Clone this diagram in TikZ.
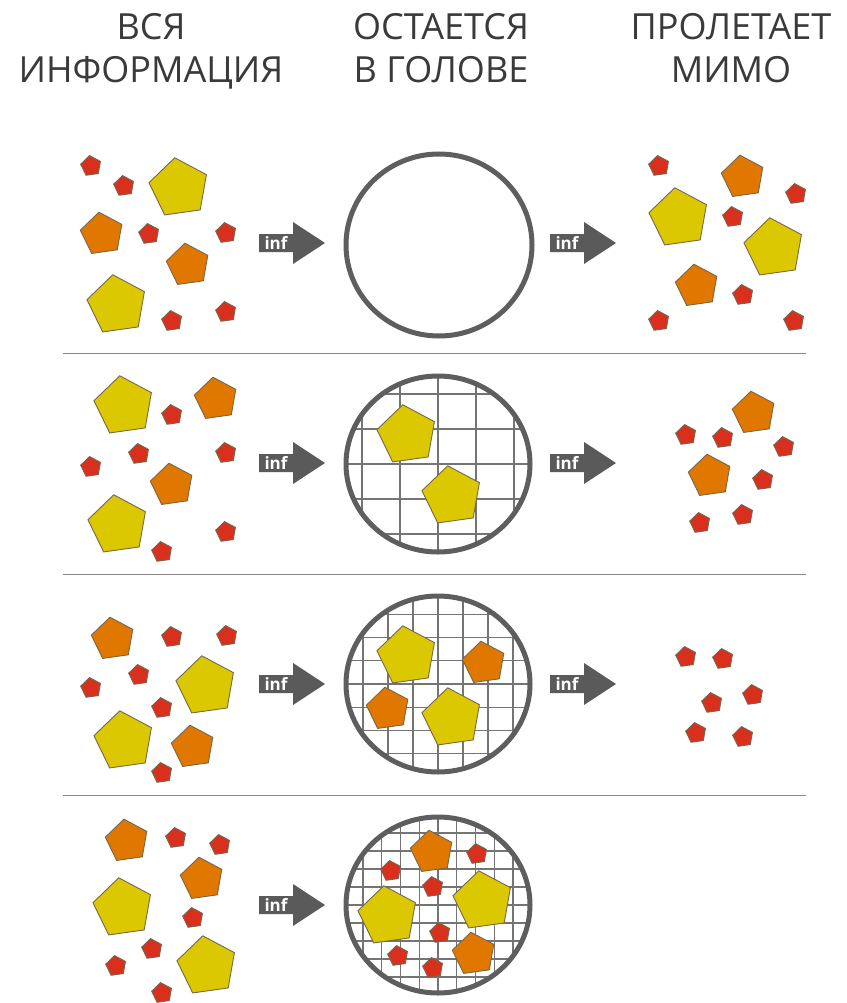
\documentclass[tikz,border=0pt]{standalone}
\usepackage{fontspec}
\newfontfamily\hdrfont{Open Sans}
\newfontfamily\inffont{Open Sans}
\usetikzlibrary{shapes.geometric}
\definecolor{pyel}{HTML}{DCC800}
\definecolor{porg}{HTML}{E07800}
\definecolor{pred}{HTML}{D9301E}
\definecolor{pedge}{HTML}{76664E}
\definecolor{ringgrey}{HTML}{5E5E5E}
\definecolor{gridgrey}{HTML}{747474}
\definecolor{arrgrey}{HTML}{5A5A5A}
\definecolor{txtgrey}{HTML}{3A3A3A}
\definecolor{sepgrey}{HTML}{8A8A8A}
\begin{document}
\begin{tikzpicture}[x=1pt,y=-1pt,
  pent/.style={regular polygon, regular polygon sides=5, shape border rotate=8,
    draw=pedge, line width=0.9pt, inner sep=0pt, outer sep=0pt},
  yel/.style={pent, fill=pyel, minimum size=61pt, yshift=-3pt},
  org/.style={pent, fill=porg, minimum size=44pt, yshift=-2pt},
  redp/.style={pent, fill=pred, minimum size=21pt, yshift=-1pt},
  hdr/.style={font=\hdrfont\fontsize{36}{40}\selectfont, text=txtgrey, anchor=base, inner sep=0pt},
  inftext/.style={font=\inffont\bfseries\fontsize{17}{17}\selectfont, text=white, inner sep=0pt},
  ring/.style={draw=ringgrey, line width=5pt},
  gridline/.style={draw=gridgrey, line width=1.1pt},
  sepline/.style={draw=sepgrey, line width=0.9pt},
  infarrow/.pic={
    \fill[arrgrey] (0,-9) -- (34,-9) -- (34,-21) -- (66,0) -- (34,21) -- (34,9) -- (0,9) -- cycle;
    \node[inftext] (-t) at (17,0) {inf};
  }
]
\useasboundingbox (0,0) rectangle (846,1003);

% headers
\node[hdr] (h1a) at (151,40) {ВСЯ};
\node[hdr] (h1b) at (151,83) {ИНФОРМАЦИЯ};
\node[hdr] (h2a) at (441,40) {ОСТАЕТСЯ};
\node[hdr] (h2b) at (441,83) {В ГОЛОВЕ};
\node[hdr] (h3a) at (731,40) {ПРОЛЕТАЕТ};
\node[hdr] (h3b) at (731,83) {МИМО};

% separators
\draw[sepline] (63,353) -- (806,353);
\draw[sepline] (63,574) -- (806,574);
\draw[sepline] (63,795) -- (806,795);

% grids
\begin{scope}
  \clip (438,464) ellipse [x radius=92pt, y radius=88pt];
  \foreach \k in {-3,...,3} {
    \draw[gridline] (438+\k*38,360) -- (438+\k*38,570);
    \draw[gridline] (330,464+\k*35) -- (550,464+\k*35);
  }
\end{scope}
\begin{scope}
  \clip (438,684) ellipse [x radius=92pt, y radius=88pt];
  \foreach \k in {-4,...,4} {
    \draw[gridline] (438+\k*25,580) -- (438+\k*25,790);
    \draw[gridline] (330,684+\k*23.3) -- (550,684+\k*23.3);
  }
\end{scope}
\begin{scope}
  \clip (438,905) ellipse [x radius=92pt, y radius=88pt];
  \foreach \k in {-5,...,5} {
    \draw[gridline] (438+\k*18.75,800) -- (438+\k*18.75,1003);
    \draw[gridline] (330,905+\k*18) -- (550,905+\k*18);
  }
\end{scope}

% rings
\draw[ring] (439,245) ellipse [x radius=93pt, y radius=91pt];
\draw[ring] (438,464) ellipse [x radius=92pt, y radius=88pt];
\draw[ring] (438,684) ellipse [x radius=92pt, y radius=88pt];
\draw[ring] (438,905) ellipse [x radius=92pt, y radius=88pt];

% arrows
\pic (al1) at (259,243) {infarrow};
\pic (al2) at (259,463) {infarrow};
\pic (al3) at (259,684) {infarrow};
\pic (al4) at (259,905) {infarrow};
\pic (ar1) at (550,243) {infarrow};
\pic (ar2) at (550,463) {infarrow};
\pic (ar3) at (550,684) {infarrow};

% row 1
\foreach \x/\y/\s [count=\i] in {91/165/redp, 124/185/redp, 179/185/yel, 102/232/org, 149/233/redp, 226/232/redp, 188/263/org, 117/302/yel, 172/320/redp, 226/311/redp}
  \node[\s] (L1-\i) at (\x,\y) {};
\foreach \x/\y/\s [count=\i] in {659/165/redp, 743/175/org, 796/193/redp, 679/215/yel, 733/216/redp, 774/245/yel, 697/284/org, 743/294/redp, 659/320/redp, 794/320/redp}
  \node[\s] (R1-\i) at (\x,\y) {};

% row 2
\foreach \x/\y/\s [count=\i] in {124/403/yel, 216/397/org, 172/414/redp, 139/453/redp, 226/452/redp, 91/466/redp, 172/483/org, 118/522/yel, 226/531/redp, 162/551/redp}
  \node[\s] (L2-\i) at (\x,\y) {};
\foreach \x/\y/\s [count=\i] in {407/432/yel, 452/493/yel}
  \node[\s] (C2-\i) at (\x,\y) {};
\foreach \x/\y/\s [count=\i] in {754/411/org, 686/434/redp, 723/437/redp, 784/446/redp, 710/474/org, 763/479/redp, 700/522/redp, 743/514/redp}
  \node[\s] (R2-\i) at (\x,\y) {};

% row 3
\foreach \x/\y/\s [count=\i] in {113/637/org, 172/636/redp, 227/635/redp, 139/674/redp, 206/683/yel, 91/687/redp, 162/707/redp, 124/738/yel, 193/745/org, 162/772/redp}
  \node[\s] (L3-\i) at (\x,\y) {};
\foreach \x/\y/\s [count=\i] in {407/653/yel, 484/661/org, 388/707/org, 452/715/yel}
  \node[\s] (C3-\i) at (\x,\y) {};
\foreach \x/\y/\s [count=\i] in {686/656/redp, 723/658/redp, 753/694/redp, 712/702/redp, 696/732/redp, 743/736/redp}
  \node[\s] (R3-\i) at (\x,\y) {};

% row 4
\foreach \x/\y/\s [count=\i] in {127/839/org, 176/837/redp, 220/844/redp, 202/877/org, 123/905/yel, 193/917/redp, 152/948/redp, 207/963/yel, 116/965/redp, 162/992/redp}
  \node[\s] (L4-\i) at (\x,\y) {};
\foreach \x/\y/\s [count=\i] in {432/850/org, 477/853/redp, 391/870/redp, 433/886/redp, 483/898/yel, 388/913/yel, 440/932/redp, 398/955/redp, 474/952/org, 433/967/redp}
  \node[\s] (C4-\i) at (\x,\y) {};
\end{tikzpicture}
\end{document}
